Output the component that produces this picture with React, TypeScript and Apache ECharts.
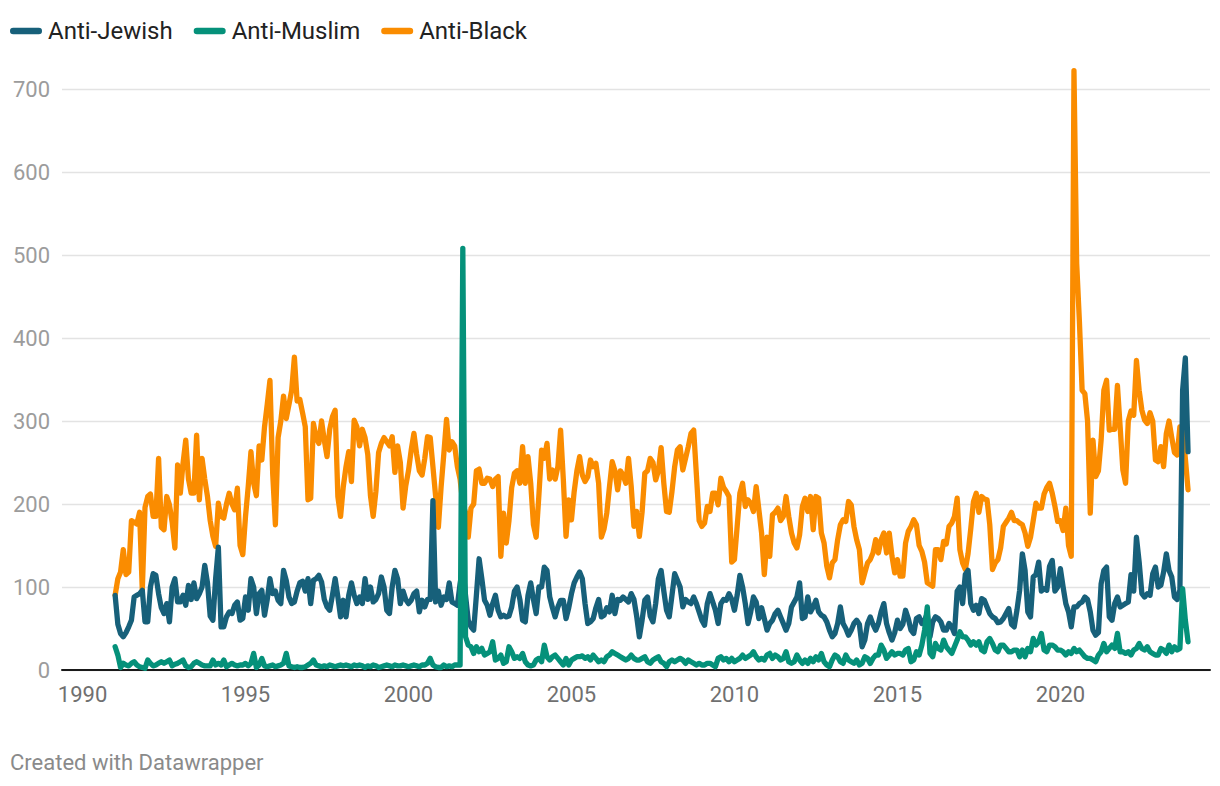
import React, { useEffect, useRef } from "react";
import * as echarts from "echarts";

// Monthly counts, January 1991 to December 2023
const startYear = 1991;

const antiJewish = [
  90, 55, 44, 40, 45, 52, 60, 88, 90, 92, 96, 58, 58, 100, 116, 114, 92, 75, 68, 80, 58, 100, 110, 82, 82, 90, 78, 102, 85, 105, 86, 92, 100, 126, 105, 65, 60, 110, 148,
  52, 52, 64, 70, 68, 78, 82, 60, 62, 88, 72, 110, 100, 68, 92, 96, 66, 85, 110, 92, 95, 84, 80, 120, 108, 88, 80, 82, 95, 105, 107, 95, 110, 80, 108, 110, 114, 106, 85, 76, 72, 90, 110, 88, 64, 84, 64, 90, 105, 90, 80,
  88, 80, 110, 85, 100, 82, 85, 92, 112, 100, 72, 68, 100, 120, 110, 80, 95, 85, 80, 84, 92, 95, 70, 84, 76, 85, 85, 204, 82, 95, 78, 88, 85, 105, 82, 80, 78, 104, 125, 90, 60, 52, 48, 90, 134, 110, 84, 78, 66, 80, 90,
  72, 64, 66, 64, 65, 76, 95, 100, 85, 60, 58, 90, 105, 85, 68, 100, 100, 124, 120, 88, 75, 64, 76, 84, 84, 62, 75, 92, 105,
  112,
  118, 110, 80, 56, 58, 62, 75, 85, 64, 66, 75, 70, 90, 68, 85, 84, 88, 85, 82, 92, 85, 65,
  40, 60, 84, 88, 65, 58, 80, 110, 120, 95, 72, 64, 90, 116, 108, 100, 76, 85, 82, 80, 88, 80, 70, 60, 54, 80, 92, 82, 72, 56, 80, 85, 84, 92, 85, 72, 90, 114, 100, 80, 56, 70, 88, 82, 62, 75, 62, 48, 56, 60, 68,
  72, 64, 56, 48, 56, 76, 82, 88, 105, 62, 64, 88, 70, 76, 84, 70, 66, 64, 58, 48, 40, 44, 56, 76, 56, 50, 42, 48, 56, 60, 55, 28, 36, 56, 64, 55, 48, 56, 70, 80, 56, 45, 36, 45, 60, 50, 55, 72, 62, 48, 44, 62,
  64, 56, 60, 68, 40, 58, 64, 62, 58, 48, 48, 56, 52, 44, 95, 100, 80, 115, 120, 80, 72, 78, 68, 86, 84, 76, 68, 64, 62, 57, 58, 62, 68, 74, 55, 52, 72, 96, 140, 120, 70, 64, 112, 115, 130, 95, 98, 96, 125, 132, 95, 100,
  122, 100, 80, 70, 52, 76, 76, 80, 82, 88, 85, 70, 48, 42, 45, 104, 120, 124, 64, 60, 80, 88, 76, 78, 80, 82, 115, 95, 160, 130, 92, 88, 92, 90, 116, 124, 100, 102, 118, 140, 120, 112, 88, 85, 96, 337, 376, 263,
];

const antiMuslim = [
  28, 18, 3, 8, 6, 5, 8, 10, 6, 4, 3, 2, 12, 8, 5, 6, 8, 10, 8, 10, 12, 5, 7, 8, 10, 12, 5, 3, 4, 8, 10, 8, 6, 5, 5, 5, 12, 6, 8,
  6, 12, 4, 6, 8, 6, 5, 6, 6, 8, 5, 8, 20, 3, 6, 14, 5, 4, 5, 6, 4, 5, 6, 8, 20, 5, 4, 3, 4, 3, 3, 4, 6, 8, 12, 6, 5, 4, 5, 4, 6, 5, 4, 5, 6, 5, 6, 5, 4, 6, 5,
  6, 5, 3, 5, 4, 6, 5, 3, 4, 5, 6, 5, 4, 6, 5, 5, 6, 5, 4, 5, 6, 5, 4, 6, 6, 8, 14, 6, 4, 3, 3, 6, 4, 5, 4, 6, 6, 6,
  508, 40, 30, 28, 20, 28, 22, 26, 18, 20, 22, 34, 12,
  14, 18, 8, 10, 28, 22, 14, 16, 14, 20, 10, 6, 5, 6, 12, 14, 10, 30, 16, 12, 16, 18, 14, 10, 6, 14, 6, 12, 14,
  16,
  16, 17, 14, 16, 12, 18, 14, 10, 12, 10, 16, 18, 22, 20, 18, 16, 14, 12, 14, 18, 14, 12,
  12, 14, 16, 10, 8, 12, 14, 16, 10, 8, 4, 10, 12, 10, 12, 14, 12, 8, 12, 10, 8, 6, 8, 6, 6, 8, 8, 6, 4, 14, 16, 12, 14, 10, 14, 10, 12, 14, 18, 14, 16, 18, 22, 16, 12, 14, 12, 18, 20, 14, 18,
  16, 12, 14, 22, 10, 8, 10, 18, 12, 8, 12, 8, 14, 10, 16, 12, 20, 10, 6, 4, 12, 18, 16, 10, 8, 18, 12, 10, 8, 12, 6, 8, 16, 14, 8, 14, 18, 18, 30, 24, 14, 18, 22, 18, 20, 20, 18, 24, 26, 10, 12, 22,
  18, 30, 48, 76, 20, 16, 32, 26, 24, 36, 28, 24, 20, 28, 36, 46, 40, 40, 36, 30, 34, 30, 34, 24, 22, 34, 38, 32, 24, 22, 30, 30, 26, 22, 22, 24, 24, 16, 24, 16, 26, 22, 38, 30, 34, 44, 24, 22, 30, 30, 28, 24,
  24, 22, 18, 22, 20, 26, 22, 24, 20, 16, 14, 14, 12, 10, 18, 22, 32, 22, 26, 30, 26, 44, 22, 22, 20, 22, 18, 24, 26, 32, 26, 24, 28, 22, 20, 18, 18, 26, 24, 20, 30, 22, 28, 24, 26, 98, 60, 34,
];

const antiBlack = [
  90, 110, 118, 145, 115, 118, 180, 178, 176, 190, 96, 196, 209, 212, 185, 185, 255, 172, 169, 209, 199, 178, 147, 247, 213, 249, 277, 230, 213, 213, 283, 205, 255, 230, 209, 180, 161, 149, 201,
  185, 183, 200, 213, 200, 193, 219, 150, 139, 185, 221, 263, 225, 210, 270, 253, 293, 320, 349, 237, 175, 280, 300, 330, 303, 320, 337, 377, 324, 326, 310, 293, 205, 207, 297, 280, 273, 300, 277, 257, 290, 305, 313, 209, 185, 221, 245, 263, 227, 301, 293,
  270, 290, 280, 260, 210, 185, 215, 262, 273, 280, 275, 270, 281, 238, 270, 250, 195, 222, 240, 265, 285, 260, 240, 235, 255, 281, 280, 245, 209, 172, 220, 260, 302, 265, 275, 270, 245, 230, 200, 190, 160, 195, 200, 240, 242, 225, 225, 231, 230, 221, 230,
  233, 137, 189, 153, 180, 220, 237, 240, 225, 269, 225, 257, 225, 175, 160, 210, 265, 255, 273, 230, 241, 230, 245, 289, 230, 161, 205, 181, 215,
  240,
  257, 235, 227, 233, 253, 245, 249, 225, 160, 170, 189, 221, 251, 240, 217, 240, 235, 225, 255, 221, 173, 191,
  161, 190, 237, 240, 255, 250, 229, 240, 268, 225, 191, 190, 215, 245, 265, 269, 241, 255, 269, 285, 289, 235, 180, 173, 177, 197, 191, 213, 213, 199, 231, 220, 215, 209, 130, 133, 173, 213, 225, 197, 205, 201, 191, 221, 193, 165, 115, 160, 137, 187, 190,
  195, 180, 185, 209, 185, 165, 153, 147, 163, 197, 207, 191, 209, 169, 209, 207, 165, 153, 125, 111, 129, 133, 157, 175, 181, 179, 203, 199, 173, 157, 145, 105, 117, 129, 133, 141, 157, 141, 157, 165, 141, 165, 137, 117, 133, 113, 113, 153, 167, 173, 181, 175, 150, 143, 130, 105,
  103, 101, 145, 145, 133, 155, 152, 173, 177, 185, 207, 145, 129, 121, 140, 170, 203, 213, 190, 209, 206, 205, 175, 121, 129, 133, 147, 173, 178, 183, 190, 180, 180, 177, 175, 165, 149, 160, 180, 201, 195, 195, 212, 220, 225, 213, 197, 179,
  180, 168, 195, 150, 137, 722, 490, 420, 337, 333, 300, 189, 277, 233, 240, 277, 337, 349, 289, 290, 290, 343, 293, 241, 225, 300, 312, 307, 373, 337, 313, 301, 297, 310, 300, 253, 251, 269, 245, 285, 300, 280, 262, 259, 293, 290, 255, 217,
];

const seriesNames = ["Anti-Jewish", "Anti-Muslim", "Anti-Black"];
const seriesColors = ["#17607a", "#05917a", "#fa8c00"];
const xTickYears = [1990, 1995, 2000, 2005, 2010, 2015, 2020];
const yTicks = [0, 100, 200, 300, 400, 500, 600, 700];

const toPoints = (vals: number[]) => vals.map((v, i) => [startYear + i / 12, v]);

const pill = "path://M3.25,0 L28.75,0 A3.25,3.25 0 0 1 28.75,6.5 L3.25,6.5 A3.25,3.25 0 0 1 3.25,0 Z";

export default function App() {
  const ref = useRef<HTMLDivElement>(null);
  useEffect(() => {
    const chart = echarts.init(ref.current as HTMLDivElement, null, { renderer: "svg" });
    const mk = (name: string, vals: number[], color: string) => ({
      name,
      type: "line",
      data: toPoints(vals),
      showSymbol: false,
      symbol: "none",
      clip: false,
      lineStyle: { color, width: 5.3, cap: "round", join: "round" },
      itemStyle: { color },
      emphasis: { disabled: true },
    });
    chart.setOption({
      animation: false,
      backgroundColor: "#ffffff",
      textStyle: { fontFamily: "Roboto" },
      legend: {
        left: 10,
        top: 19,
        padding: 0,
        icon: pill,
        itemWidth: 32,
        itemHeight: 6.5,
        itemGap: 21,
        selectedMode: false,
        data: seriesNames,
        itemStyle: { borderWidth: 0 },
        textStyle: { fontSize: 24, color: "#222222", fontFamily: "Roboto", padding: [0, 0, 0, 1] },
      },
      grid: { left: 62, right: 10, top: 89, bottom: 116, containLabel: false, outerBoundsMode: "none" },
      xAxis: {
        type: "value",
        min: 1989.37,
        max: 2024.59,
        axisLine: { onZero: true, lineStyle: { color: "#1a1a1a", width: 2 } },
        axisTick: { show: false },
        splitLine: { show: false },
        axisLabel: {
          customValues: xTickYears,
          fontSize: 22,
          color: "#707070",
          fontFamily: "Roboto",
          margin: 13,
          formatter: (v: number) => String(Math.round(v)),
        },
      },
      yAxis: {
        type: "value",
        min: yTicks[0],
        max: yTicks[yTicks.length - 1],
        interval: 100,
        axisLine: { show: false },
        axisTick: { show: false },
        splitLine: { lineStyle: { color: "#e3e3e3", width: 1.3 } },
        axisLabel: { fontSize: 22, color: "#9c9c9c", fontFamily: "Roboto", margin: 12 },
      },
      graphic: [
        {
          type: "text",
          left: 10,
          top: 751,
          style: { text: "Created with Datawrapper", fontSize: 22, fill: "#8a8a8a", fontFamily: "Roboto" },
        },
      ],
      series: [
        mk(seriesNames[2], antiBlack, seriesColors[2]),
        mk(seriesNames[0], antiJewish, seriesColors[0]),
        mk(seriesNames[1], antiMuslim, seriesColors[1]),
      ],
    });
    return () => chart.dispose();
  }, []);
  return (
    <div style={{ position: "absolute", left: 0, top: 0, width: 1220, height: 786, background: "#fff" }}>
      <div ref={ref} style={{ width: 1220, height: 786 }} />
    </div>
  );
}
